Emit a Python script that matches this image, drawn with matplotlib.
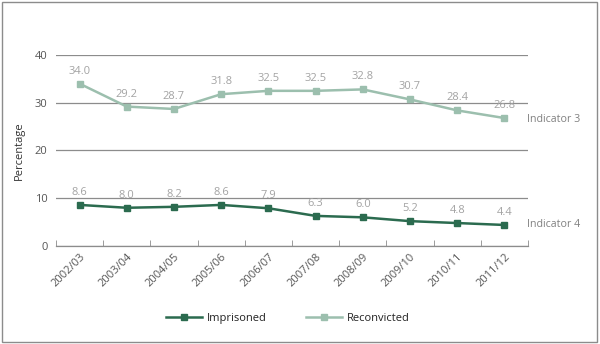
import matplotlib
matplotlib.use("Agg")
import matplotlib.pyplot as plt
from matplotlib.patches import Rectangle

years = ["2002/03", "2003/04", "2004/05", "2005/06", "2006/07",
         "2007/08", "2008/09", "2009/10", "2010/11", "2011/12"]
imprisoned = [8.6, 8.0, 8.2, 8.6, 7.9, 6.3, 6.0, 5.2, 4.8, 4.4]
reconvicted = [34.0, 29.2, 28.7, 31.8, 32.5, 32.5, 32.8, 30.7, 28.4, 26.8]
y_ticks = [0, 10, 20, 30, 40]

dark = "#2b6b4f"
light = "#9cbfae"
label_grey = "#a3a3a3"
text_grey = "#555555"

plt.rcParams["font.family"] = ["Open Sans", "DejaVu Sans"]

fig = plt.figure(figsize=(6.0, 3.44), dpi=100)
ax = fig.add_axes([0.0933, 0.285, 0.7867, 0.555])

x = list(range(len(years)))
ax.plot(x, reconvicted, color=light, lw=1.8, marker="s", ms=4.5, label="Reconvicted", zorder=3)
ax.plot(x, imprisoned, color=dark, lw=1.8, marker="s", ms=4.5, label="Imprisoned", zorder=3)

for xi, v in zip(x, reconvicted):
    ax.annotate(f"{v:.1f}", (xi, v), xytext=(0, 5), textcoords="offset points",
                ha="center", va="bottom", fontsize=8, color=label_grey)
for xi, v in zip(x, imprisoned):
    ax.annotate(f"{v:.1f}", (xi, v), xytext=(0, 5), textcoords="offset points",
                ha="center", va="bottom", fontsize=8, color=label_grey)

ax.set_xlim(-0.5, len(years) - 0.5)
ax.set_ylim(0, 40)
ax.set_yticks(y_ticks)
ax.set_yticklabels([str(t) for t in y_ticks], fontsize=8, color=text_grey)
ax.tick_params(axis="y", length=0, pad=6)
ax.yaxis.grid(True, color="#8c8c8c", lw=0.9)
ax.set_axisbelow(True)

# category labels centred, tick marks at category boundaries
ax.set_xticks(x)
ax.set_xticklabels(years, rotation=45, ha="right", rotation_mode="anchor",
                   fontsize=8, color=text_grey)
ax.tick_params(axis="x", which="major", length=0, pad=4)
ax.set_xticks([i - 0.5 for i in range(len(years) + 1)], minor=True)
ax.tick_params(axis="x", which="minor", length=4, direction="in", color="#8c8c8c")

for side in ("top", "right", "left"):
    ax.spines[side].set_visible(False)
ax.spines["bottom"].set_color("#8c8c8c")
ax.spines["bottom"].set_linewidth(0.9)

ax.set_ylabel("Percentage", fontsize=8, color="#333333")
ax.yaxis.set_label_coords(-0.066, 0.5)

ax.annotate("Indicator 3", xy=(len(years) - 0.5, 26.4), xytext=(-1, 0),
            textcoords="offset points", fontsize=7.7, color="#808080",
            ha="left", va="center", annotation_clip=False)
ax.annotate("Indicator 4", xy=(len(years) - 0.5, 4.6), xytext=(-1, 0),
            textcoords="offset points", fontsize=7.7, color="#808080",
            ha="left", va="center", annotation_clip=False)

handles, labels = ax.get_legend_handles_labels()
fig.legend(handles[::-1], labels[::-1], loc="center", bbox_to_anchor=(0.48, 0.074),
           ncol=2, frameon=False, fontsize=8, handlelength=3.2, columnspacing=3.5,
           handletextpad=0.5, labelcolor="#222222")

fig.patches.append(Rectangle((0.004, 0.006), 0.991, 0.988, transform=fig.transFigure,
                             fill=False, edgecolor="#8c8c8c", lw=1.0))

fig.savefig("out.png", dpi=100)
